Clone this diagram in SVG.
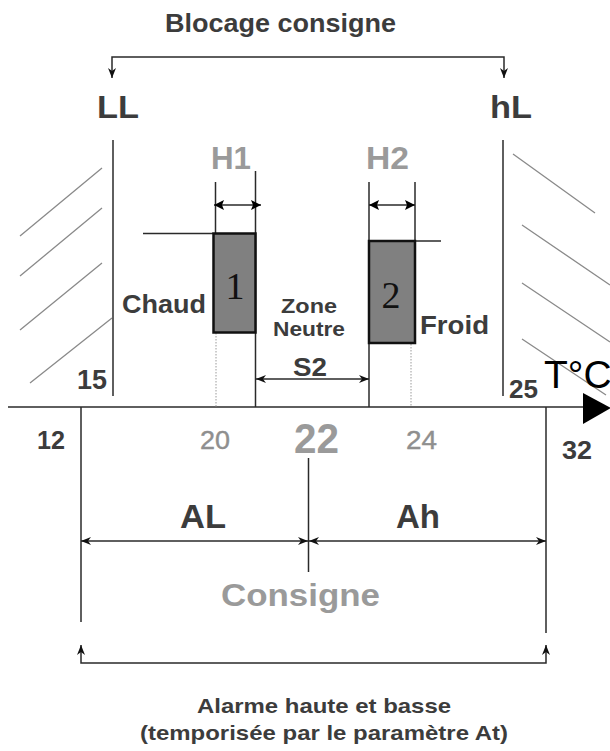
<svg xmlns="http://www.w3.org/2000/svg" width="610" height="751" viewBox="0 0 610 751">
<defs>
<style>
.ln{stroke:#2a2a2a;stroke-width:1.5;fill:none}
.hatch{stroke:#8a8a8a;stroke-width:1.3;fill:none}
.dot{stroke:#9a9a9a;stroke-width:1;stroke-dasharray:1.5 1.5;fill:none}
.t{font-family:"Liberation Sans",Arial,sans-serif;font-weight:bold;fill:#3c3c3c}
.g{font-family:"Liberation Sans",Arial,sans-serif;font-weight:bold;fill:#9a9a9a}
.gn{font-family:"Liberation Sans",Arial,sans-serif;fill:#8f8f8f;stroke:#8f8f8f;stroke-width:0.4}
.box{fill:#808080;stroke:#111;stroke-width:2.5}
.num{font-family:"Liberation Serif","Times New Roman",serif;fill:#111}
</style>
<marker id="ah" viewBox="0 0 10 8" refX="10" refY="4" markerWidth="10" markerHeight="8" markerUnits="userSpaceOnUse" orient="auto-start-reverse">
<path d="M0,0 L10,4 L0,8 L3,4 z" fill="#111"/>
</marker>
<marker id="big" viewBox="0 0 10 10" refX="10" refY="5" markerWidth="11" markerHeight="10" markerUnits="userSpaceOnUse" orient="auto-start-reverse">
<path d="M0,0 L10,5 L0,10 L2,5 z" fill="#000"/>
</marker>
</defs>
<rect width="610" height="751" fill="#fff"/>

<g id="hatching">
<path class="hatch" d="M20,236 L102,168 M20,276 L102,208 M20,330 L102,263 M30,383 L112,318"/>
<path class="hatch" d="M513,154 L595,213 M522,225 L610,285 M522,283 L610,342 M522,339 L606,395"/>
</g>

<g id="connectors">
<path class="ln" d="M112,78 V57 H504 V78" marker-start="url(#ah)" marker-end="url(#ah)"/>
<path class="ln" d="M113,140 V396"/>
<path class="ln" d="M503,140 V396"/>
<path class="ln" d="M8,407 H585"/>
<path d="M583,393 L611,408 L583,424 Z" fill="#000"/>
<path class="ln" d="M215.5,182 V233"/>
<path class="ln" d="M255.5,171 V407"/>
<path class="ln" d="M214,205 H261" marker-start="url(#big)" marker-end="url(#big)"/>
<path class="ln" d="M369,182 V407"/>
<path class="ln" d="M415,182 V241"/>
<path class="ln" d="M369,205 H415" marker-start="url(#big)" marker-end="url(#big)"/>
<path class="ln" d="M143,233.5 H213"/>
<path class="ln" d="M415,241 H441"/>
<path class="dot" d="M216,333 V407"/>
<path class="dot" d="M411,344 V407"/>
<path class="ln" d="M256,379 H369" marker-start="url(#ah)" marker-end="url(#ah)"/>
<path class="ln" d="M81,407 V622"/>
<path class="ln" d="M546,407 V633"/>
<path class="ln" d="M308.5,458 V572"/>
<path class="ln" d="M81,541 H308" marker-start="url(#ah)" marker-end="url(#ah)"/>
<path class="ln" d="M309,541 H546" marker-start="url(#ah)" marker-end="url(#ah)"/>
<path class="ln" d="M81,645 V663 H546 V645" marker-start="url(#ah)" marker-end="url(#ah)"/>
</g>

<g id="box1">
<rect class="box" x="213.5" y="233.5" width="42" height="99"/>
<text class="num" x="235" y="299" font-size="38" text-anchor="middle">1</text>
</g>
<g id="box2">
<rect class="box" x="369" y="241" width="46" height="102"/>
<text class="num" x="391" y="308" font-size="38" text-anchor="middle">2</text>
</g>

<g id="title"><text class="t" x="165" y="32" font-size="25" textLength="231" lengthAdjust="spacingAndGlyphs">Blocage consigne</text></g>
<g id="LL"><text class="t" x="97" y="118" font-size="31" textLength="42" lengthAdjust="spacingAndGlyphs">LL</text></g>
<g id="hL"><text class="t" x="490" y="118" font-size="31" textLength="42" lengthAdjust="spacingAndGlyphs">hL</text></g>
<g id="H1"><text class="g" x="211" y="169" font-size="32" textLength="40" lengthAdjust="spacingAndGlyphs">H1</text></g>
<g id="H2"><text class="g" x="366" y="169" font-size="32" textLength="43" lengthAdjust="spacingAndGlyphs">H2</text></g>
<g id="chaud"><text class="t" x="122" y="313" font-size="25" textLength="84" lengthAdjust="spacingAndGlyphs">Chaud</text></g>
<g id="froid"><text class="t" x="420" y="334" font-size="25" textLength="69" lengthAdjust="spacingAndGlyphs">Froid</text></g>
<g id="zone">
<text class="t" x="309" y="313" font-size="20" text-anchor="middle" textLength="56" lengthAdjust="spacingAndGlyphs">Zone</text>
<text class="t" x="309" y="336" font-size="20" text-anchor="middle" textLength="72" lengthAdjust="spacingAndGlyphs">Neutre</text>
<text class="t" x="310" y="376" font-size="26" text-anchor="middle" textLength="34" lengthAdjust="spacingAndGlyphs">S2</text>
</g>
<g id="v15"><text class="t" x="77" y="389" font-size="27" textLength="30" lengthAdjust="spacingAndGlyphs">15</text></g>
<g id="v25"><text class="t" x="509" y="398" font-size="26" textLength="29" lengthAdjust="spacingAndGlyphs">25</text></g>
<g id="tc"><text x="544" y="388" font-family="Liberation Sans,Arial,sans-serif" font-size="39" fill="#000">T°C</text></g>
<g id="v12"><text class="t" x="37" y="449" font-size="26" textLength="28" lengthAdjust="spacingAndGlyphs">12</text></g>
<g id="v20"><text class="gn" x="200" y="449" font-size="26" textLength="30" lengthAdjust="spacingAndGlyphs">20</text></g>
<g id="v22"><text class="g" x="294" y="453" font-size="42" fill="#888" textLength="45" lengthAdjust="spacingAndGlyphs">22</text></g>
<g id="v24"><text class="gn" x="406" y="449" font-size="26" textLength="31" lengthAdjust="spacingAndGlyphs">24</text></g>
<g id="v32"><text class="t" x="562" y="459" font-size="26" textLength="30" lengthAdjust="spacingAndGlyphs">32</text></g>
<g id="AL"><text class="t" x="180" y="528" font-size="33" textLength="46" lengthAdjust="spacingAndGlyphs">AL</text></g>
<g id="Ah"><text class="t" x="396" y="528" font-size="33" textLength="44" lengthAdjust="spacingAndGlyphs">Ah</text></g>
<g id="consigne"><text class="g" x="221" y="606" font-size="32" textLength="159" lengthAdjust="spacingAndGlyphs">Consigne</text></g>
<g id="alarme">
<text class="t" x="197" y="713" font-size="21" textLength="254" lengthAdjust="spacingAndGlyphs">Alarme haute et basse</text>
<text class="t" x="140" y="740" font-size="21" textLength="368" lengthAdjust="spacingAndGlyphs">(temporisée par le paramètre At)</text>
</g>
</svg>
